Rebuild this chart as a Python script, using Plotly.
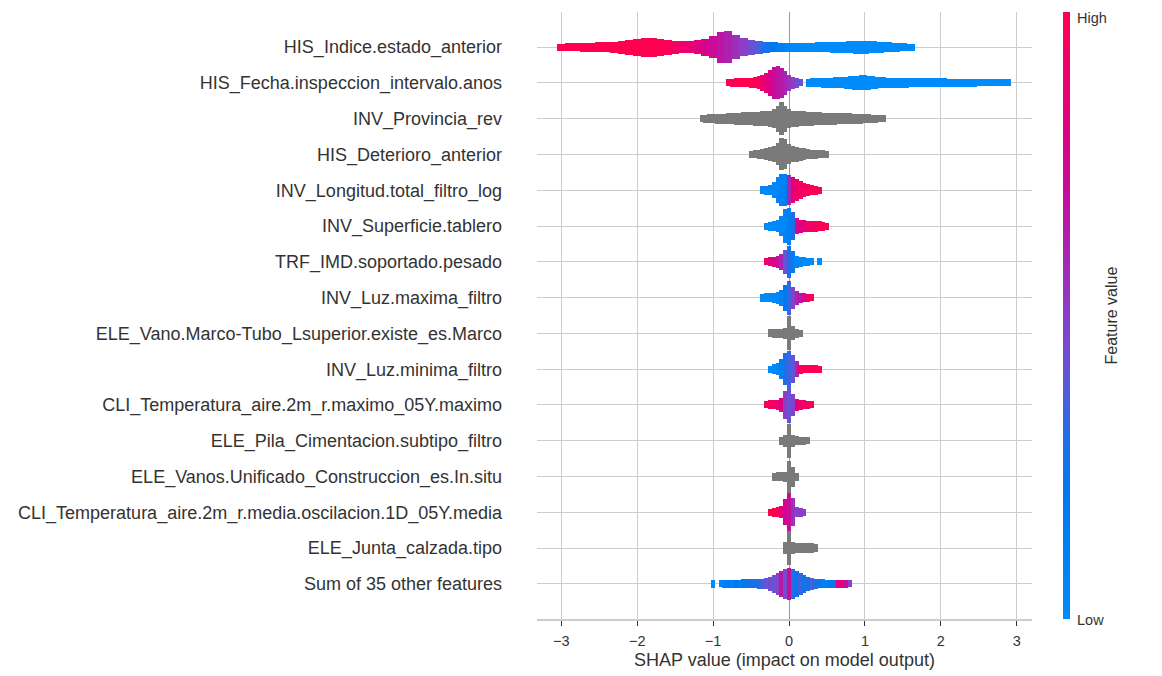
import plotly.graph_objects as go

# SHAP beeswarm.
# every row is a list of (shap value, half spread of the swarm in px, feature value 0..1 or None for grey)

his_indice = [
    (-3.0, 2.5, 1.0), (-2.9, 3, 1.0), (-2.8, 3, 1.0), (-2.7, 3.5, 1.0), (-2.6, 3.5, 1.0),
    (-2.5, 4, 1.0), (-2.4, 4, 1.0), (-2.3, 4.5, 1.0), (-2.2, 5.5, 1.0), (-2.1, 6.5, 1.0),
    (-2.0, 7.5, 1.0), (-1.9, 8.5, 1.0), (-1.8, 8.5, 1.0), (-1.7, 7.5, 1.0), (-1.6, 6.5, 0.97),
    (-1.5, 5.5, 0.93), (-1.4, 5, 0.9), (-1.3, 5, 0.86), (-1.2, 6, 0.82), (-1.1, 7.5, 0.77),
    (-1.0, 10, 0.72), (-0.9, 14.5, 0.67), (-0.8, 15, 0.62), (-0.7, 11, 0.56), (-0.6, 8, 0.5),
    (-0.5, 6.5, 0.43), (-0.4, 5.5, 0.36), (-0.3, 4.5, 0.28), (-0.2, 4, 0.2), (-0.1, 3.5, 0.12),
    (0.0, 3.5, 0.06), (0.1, 3.5, 0.03), (0.2, 3.5, 0.0), (0.3, 3.5, 0.0), (0.4, 4, 0.0),
    (0.5, 4, 0.0), (0.6, 4.5, 0.0), (0.7, 4.5, 0.0), (0.8, 5, 0.0), (0.9, 5.5, 0.0),
    (1.0, 5.5, 0.0), (1.1, 5, 0.0), (1.2, 4.5, 0.0), (1.3, 4, 0.0), (1.4, 3.5, 0.0),
    (1.5, 3, 0.0), (1.6, 2.5, 0.0),
]

his_fecha = [
    (-0.80, 2.5, 1.0), (-0.75, 3, 1.0), (-0.70, 3.5, 1.0), (-0.65, 3.5, 1.0), (-0.60, 3.5, 1.0),
    (-0.55, 3.5, 1.0), (-0.50, 4, 1.0), (-0.45, 4.5, 0.98), (-0.40, 5.5, 0.95), (-0.35, 7, 0.9),
    (-0.30, 9, 0.85), (-0.25, 12, 0.8), (-0.20, 15, 0.72), (-0.15, 15.5, 0.68), (-0.10, 14, 0.65),
    (-0.05, 11, 0.6), (0.00, 7, 0.55), (0.05, 5, 0.5), (0.10, 4, 0.45), (0.15, 2.5, 0.4),
    (0.25, 3, 0.0), (0.30, 3.5, 0.0), (0.35, 3.5, 0.0), (0.40, 3.5, 0.0), (0.45, 4, 0.0),
    (0.50, 4, 0.0), (0.55, 4, 0.0), (0.60, 4.5, 0.0), (0.65, 4.5, 0.0), (0.70, 4.5, 0.0),
    (0.75, 5, 0.0), (0.80, 5.5, 0.0), (0.85, 6, 0.0), (0.90, 6, 0.0), (0.95, 6.5, 0.0),
    (1.00, 6.5, 0.0), (1.05, 6, 0.0), (1.10, 5.5, 0.0), (1.15, 5, 0.0), (1.20, 4.5, 0.0),
    (1.25, 4.5, 0.0), (1.30, 4, 0.0), (1.35, 4, 0.0), (1.40, 4, 0.0), (1.45, 4, 0.0),
    (1.50, 4, 0.0), (1.55, 4, 0.0), (1.60, 3.5, 0.0), (1.65, 3.5, 0.0), (1.70, 3.5, 0.0),
    (1.75, 3.5, 0.0), (1.80, 3.5, 0.0), (1.85, 3.5, 0.0), (1.90, 3.5, 0.0), (1.95, 3.5, 0.0),
    (2.00, 3.5, 0.0), (2.05, 3.5, 0.0), (2.10, 3, 0.0), (2.15, 3, 0.0), (2.20, 3, 0.0),
    (2.25, 3, 0.0), (2.30, 3, 0.0), (2.35, 3, 0.0), (2.40, 3, 0.0), (2.45, 3, 0.0),
    (2.50, 2.5, 0.0), (2.55, 2.5, 0.0), (2.60, 2.5, 0.0), (2.65, 2.5, 0.0), (2.70, 2.5, 0.0),
    (2.75, 2.5, 0.0), (2.80, 2.5, 0.0), (2.85, 2.5, 0.0), (2.90, 2.5, 0.0),
]

inv_provincia = [
    (-1.15, 2.5, None), (-1.10, 3, None), (-1.05, 3.5, None), (-1.00, 3.5, None), (-0.95, 4, None),
    (-0.90, 4, None), (-0.85, 4, None), (-0.80, 4.5, None), (-0.75, 4.5, None), (-0.70, 5, None),
    (-0.65, 5, None), (-0.60, 5.5, None), (-0.55, 5.5, None), (-0.50, 5.5, None), (-0.45, 6, None),
    (-0.40, 6, None), (-0.35, 6.5, None), (-0.30, 6.5, None), (-0.25, 7, None), (-0.20, 8.5, None),
    (-0.15, 12, None), (-0.10, 15.5, None), (-0.05, 12, None), (0.00, 8.5, None), (0.05, 7, None),
    (0.10, 7, None), (0.15, 6.5, None), (0.20, 6.5, None), (0.25, 6, None), (0.30, 6, None),
    (0.35, 5.5, None), (0.40, 5.5, None), (0.45, 5, None), (0.50, 5, None), (0.55, 5, None),
    (0.60, 5, None), (0.65, 4.5, None), (0.70, 4.5, None), (0.75, 4.5, None), (0.80, 4.5, None),
    (0.85, 4, None), (0.90, 4, None), (0.95, 4, None), (1.00, 3.5, None), (1.05, 3.5, None),
    (1.10, 3, None), (1.15, 3, None), (1.20, 2.5, None), (1.25, 2.5, None),
]

his_deterioro = [
    (-0.50, 2.5, None), (-0.45, 3, None), (-0.40, 3.5, None), (-0.35, 4, None), (-0.30, 5, None),
    (-0.25, 6, None), (-0.20, 7, None), (-0.15, 10, None), (-0.10, 15, None), (-0.05, 14, None),
    (0.00, 9, None), (0.05, 7, None), (0.10, 6.5, None), (0.15, 5.5, None), (0.20, 5, None),
    (0.25, 4, None), (0.30, 3.5, None), (0.35, 3.5, None), (0.40, 3, None), (0.45, 3, None),
    (0.50, 2.5, None),
]

inv_longitud = [
    (-0.35, 3, 0.05), (-0.30, 3.5, 0.05), (-0.25, 4, 0.05), (-0.20, 7, 0.05), (-0.15, 12, 0.08),
    (-0.10, 15, 0.1), (-0.05, 15, 0.15), (0.00, 14, 0.6), (0.05, 12, 0.85), (0.10, 10, 0.9),
    (0.15, 8, 0.92), (0.20, 6, 0.95), (0.25, 5, 0.95), (0.30, 4, 0.97), (0.35, 3.5, 1.0),
    (0.40, 2.5, 1.0),
]

inv_superficie = [
    (-0.30, 2.5, 0.0), (-0.25, 3.5, 0.0), (-0.20, 4, 0.02), (-0.15, 5, 0.03), (-0.10, 9, 0.05),
    (-0.05, 16, 0.08), (0.00, 17.5, 0.12), (0.05, 13, 0.3), (0.10, 7, 0.7), (0.15, 5.5, 0.8),
    (0.20, 5, 0.85), (0.25, 4.5, 0.9), (0.30, 4.5, 0.92), (0.35, 4.5, 0.95), (0.40, 4, 0.97),
    (0.45, 3.5, 1.0), (0.50, 2.5, 1.0),
]

trf_imd = [
    (-0.30, 2.5, 0.9), (-0.25, 3.5, 0.85), (-0.20, 4, 0.8), (-0.15, 5, 0.7), (-0.10, 7, 0.6),
    (-0.05, 11, 0.4), (0.00, 15, 0.3), (0.05, 10, 0.15), (0.10, 5, 0.05), (0.15, 4, 0.03),
    (0.20, 3.5, 0.02), (0.25, 3, 0.02), (0.30, 2.5, 0.0), (0.40, 2.5, 0.0),
]

inv_luz_maxima = [
    (-0.35, 3, 0.0), (-0.30, 3.5, 0.0), (-0.25, 3.5, 0.02), (-0.20, 4, 0.03), (-0.15, 5, 0.05),
    (-0.10, 7, 0.1), (-0.05, 12, 0.2), (0.00, 16, 0.35), (0.05, 10, 0.5), (0.10, 6, 0.6),
    (0.15, 4, 0.65), (0.20, 3.5, 0.75), (0.25, 3, 0.9), (0.30, 2.5, 1.0),
]

ele_vano = [
    (-0.25, 3, None), (-0.20, 3.5, None), (-0.15, 3.5, None), (-0.10, 3.5, None), (-0.05, 4.5, None),
    (0.00, 16, None), (0.05, 6, None), (0.10, 3.5, None), (0.15, 2.5, None),
]

inv_luz_minima = [
    (-0.25, 2.5, 0.0), (-0.20, 4, 0.0), (-0.15, 5, 0.05), (-0.10, 9, 0.15), (-0.05, 15, 0.3),
    (0.00, 17, 0.35), (0.05, 13, 0.4), (0.10, 7, 0.6), (0.15, 3.5, 0.95), (0.20, 3, 1.0),
    (0.25, 3, 1.0), (0.30, 3, 1.0), (0.35, 3, 1.0), (0.40, 2.5, 1.0),
]

cli_temp_maximo = [
    (-0.30, 2.5, 0.95), (-0.25, 3.5, 0.95), (-0.20, 3.5, 0.92), (-0.15, 4, 0.9), (-0.10, 6, 0.8),
    (-0.05, 13, 0.5), (0.00, 17, 0.4), (0.05, 10, 0.5), (0.10, 5, 0.8), (0.15, 4, 0.9),
    (0.20, 3.5, 0.92), (0.25, 3, 0.95), (0.30, 2.5, 1.0),
]

ele_pila = [
    (-0.10, 3, None), (-0.05, 5, None), (0.00, 16, None), (0.05, 5, None), (0.10, 3.5, None),
    (0.15, 3, None), (0.20, 3, None), (0.25, 2.5, None),
]

ele_vanos = [
    (-0.20, 3, None), (-0.15, 3.5, None), (-0.10, 3.5, None), (-0.05, 4, None), (0.00, 15, None),
    (0.05, 9, None), (0.10, 3, None),
]

cli_temp_oscilacion = [
    (-0.25, 2.5, 1.0), (-0.20, 3.5, 1.0), (-0.15, 4, 0.95), (-0.10, 5, 0.85), (-0.05, 12, 0.75),
    (0.00, 18, 0.7), (0.05, 13, 0.55), (0.10, 4, 0.45), (0.15, 3.5, 0.5), (0.20, 2.5, 0.5),
]

ele_junta = [
    (-0.05, 5, None), (0.00, 16, None), (0.05, 5, None), (0.10, 4, None), (0.15, 4, None),
    (0.20, 4, None), (0.25, 4, None), (0.30, 4, None), (0.35, 3, None),
]

other_features = [
    (-1.00, 3, 0.0), (-0.90, 2.5, 0.05), (-0.85, 3, 0.1), (-0.80, 3, 0.15), (-0.75, 3, 0.1),
    (-0.70, 3, 0.2), (-0.65, 3, 0.15), (-0.60, 3.5, 0.2), (-0.55, 3.5, 0.25), (-0.50, 3.5, 0.3),
    (-0.45, 3.5, 0.25), (-0.40, 4, 0.3), (-0.35, 4, 0.35), (-0.30, 4.5, 0.4), (-0.25, 6, 0.45),
    (-0.20, 8, 0.4), (-0.15, 10, 0.5), (-0.10, 12, 0.65), (-0.05, 14, 0.45), (0.00, 15, 0.7),
    (0.05, 14, 0.3), (0.10, 12, 0.2), (0.15, 10, 0.35), (0.20, 8, 0.25), (0.25, 6, 0.3),
    (0.30, 5, 0.35), (0.35, 4, 0.3), (0.40, 3.5, 0.2), (0.45, 3.5, 0.1), (0.50, 3, 0.15),
    (0.55, 3, 0.2), (0.60, 3, 0.3), (0.65, 3, 0.8), (0.70, 3, 0.85), (0.75, 3, 0.7),
    (0.80, 2.5, 0.5),
]

labels = [
    "HIS_Indice.estado_anterior",
    "HIS_Fecha.inspeccion_intervalo.anos",
    "INV_Provincia_rev",
    "HIS_Deterioro_anterior",
    "INV_Longitud.total_filtro_log",
    "INV_Superficie.tablero",
    "TRF_IMD.soportado.pesado",
    "INV_Luz.maxima_filtro",
    "ELE_Vano.Marco-Tubo_Lsuperior.existe_es.Marco",
    "INV_Luz.minima_filtro",
    "CLI_Temperatura_aire.2m_r.maximo_05Y.maximo",
    "ELE_Pila_Cimentacion.subtipo_filtro",
    "ELE_Vanos.Unificado_Construccion_es.In.situ",
    "CLI_Temperatura_aire.2m_r.media.oscilacion.1D_05Y.media",
    "ELE_Junta_calzada.tipo",
    "Sum of 35 other features",
]

rows = [his_indice, his_fecha, inv_provincia, his_deterioro, inv_longitud, inv_superficie,
        trf_imd, inv_luz_maxima, ele_vano, inv_luz_minima, cli_temp_maximo, ele_pila,
        ele_vanos, cli_temp_oscilacion, ele_junta, other_features]

ROW_PX = 35.8  # one row of the chart in px, turns the spread into y units
DOT_PX = 1.0   # dots are round, they stick out a little past the measured spread

red_blue = [
    [0.0, "#008bfb"], [0.2, "#0079f0"], [0.3, "#1f6ee6"], [0.4, "#6256d6"],
    [0.5, "#8a3fc6"], [0.6, "#a824b2"], [0.7, "#c50e9c"], [0.8, "#dc0085"],
    [0.9, "#f0006a"], [1.0, "#ff0051"],
]

font = "Liberation Sans, Arial, sans-serif"

fig = go.Figure()
n = len(rows)
for i, row in enumerate(rows):
    ypos = n - 1 - i
    xs = [r[0] for r in row]
    half = [(r[1] + DOT_PX) / ROW_PX for r in row]
    vals = [r[2] for r in row]
    step = min(b - a for a, b in zip(xs, xs[1:]))
    if vals[0] is None:
        marker = dict(color="#7a7a7a")
    else:
        marker = dict(color=vals, colorscale=red_blue, cmin=0, cmax=1,
                      showscale=(i == 0),
                      colorbar=dict(x=1.0626, xanchor="left", y=0.5, yanchor="middle",
                                    len=1.0, thickness=7, outlinewidth=0, xpad=0, ypad=0,
                                    showticklabels=False, ticks=""))
    fig.add_trace(go.Bar(x=xs,
                         y=[2 * h for h in half],
                         base=[ypos - h for h in half],
                         width=step * 1.1,
                         marker=marker,
                         marker_line_width=0,
                         name=labels[i],
                         showlegend=False,
                         hoverinfo="skip"))

# colour bar end labels and title
fig.add_annotation(text="High", x=1.0869, y=1.0066, xref="paper", yref="paper",
                   xanchor="left", yanchor="top", showarrow=False,
                   font=dict(family=font, size=14.5, color="#333"))
fig.add_annotation(text="Low", x=1.0869, y=-0.0016, xref="paper", yref="paper",
                   xanchor="left", yanchor="middle", showarrow=False,
                   font=dict(family=font, size=14.5, color="#333"))

fig.add_annotation(text="Feature value", textangle=-90, x=1.1616, y=0.5,
                   xref="paper", yref="paper", xanchor="center", yanchor="middle",
                   showarrow=False,
                   font=dict(family=font, size=16, color="#333"))

# the page body adds 8px on the left and top, so the figure is a bit smaller
fig.update_layout(
    width=1154, height=668,
    margin=dict(l=529, r=130, t=4, b=57),
    paper_bgcolor="white", plot_bgcolor="white",
    barmode="overlay", bargap=0,
    font=dict(family=font, color="#333"),
    xaxis=dict(range=[-3.32, 3.2], tickvals=[-3, -2, -1, 0, 1, 2, 3],
               ticktext=["\u22123", "\u22122", "\u22121", "0", "1", "2", "3"],
               showgrid=True, gridcolor="#cccccc", gridwidth=1,
               zeroline=True, zerolinecolor="#999999", zerolinewidth=1,
               showline=True, linecolor="#cccccc", linewidth=1.5,
               ticks="outside", ticklen=5, tickcolor="#333", tickwidth=1,
               ticklabelstandoff=3,
               tickfont=dict(size=14.5),
               title=dict(text="SHAP value (impact on model output)",
                          font=dict(size=18), standoff=5)),
    yaxis=dict(range=[-0.98, n - 1 + 0.98], tickvals=list(range(n)),
               ticktext=labels[::-1], showgrid=True, gridcolor="#cccccc", gridwidth=1,
               zeroline=False, showline=False, ticks="", ticklabelstandoff=34,
               automargin=False, tickfont=dict(size=18)),
)

fig.write_html("out.html")
